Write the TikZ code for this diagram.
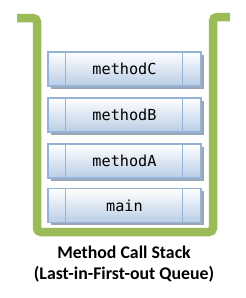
\documentclass[tikz,border=0pt]{standalone}
\usepackage{fontspec}
\setmainfont{Carlito}
\setmonofont{DejaVu Sans Mono}
\usetikzlibrary{shadows}
\definecolor{stackgreen}{HTML}{9BBB59}
\definecolor{boxborder}{HTML}{95B3D7}
\definecolor{boxbottom}{HTML}{B9CDE5}
\definecolor{boxshadow}{HTML}{9AA6B6}
\tikzset{
  framebox/.style={draw=boxborder, line width=1.2pt, minimum width=153pt, minimum height=34pt,
    top color=white, bottom color=boxbottom, inner sep=0pt,
    drop shadow={shadow xshift=2.5pt, shadow yshift=-2.5pt, fill=boxshadow, opacity=1},
    font=\ttfamily\fontsize{15.2}{17}\selectfont},
  divider/.style={draw=boxborder, line width=1.2pt},
  stackline/.style={draw=stackgreen, line width=8.5pt, rounded corners=4pt},
  caption/.style={font=\bfseries\fontsize{17.8}{21}\selectfont, align=center}
}
\begin{document}
\begin{tikzpicture}[x=1pt,y=-1pt]
\useasboundingbox (0,0) rectangle (246,298);
\coordinate (tl) at (17,18);
\coordinate (tr) at (230,17);
\draw[stackline] (tl) -- (37,18) -- (37,232) -- (213,232) -- (213,17) -- (tr);
\foreach \n/\t/\y in {c/methodC/69, b/methodB/115, a/methodA/161, m/main/205.5}{
  \node[framebox] (\n) at (124.5,\y) {\t};
  \draw[divider] ([xshift=18pt]\n.north west) -- ([xshift=18pt]\n.south west);
  \draw[divider] ([xshift=-19pt]\n.north east) -- ([xshift=-19pt]\n.south east);
}
\node[caption] (cap) at (124,264.5) {Method Call Stack\\(Last-in-First-out Queue)};
\end{tikzpicture}
\end{document}
